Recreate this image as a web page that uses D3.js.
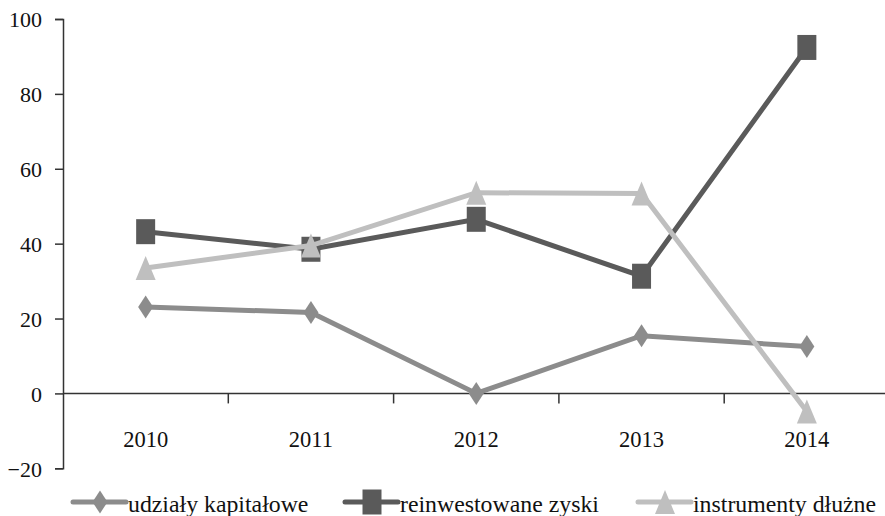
<!DOCTYPE html>
<html>
<head>
<meta charset="utf-8">
<script src="https://cdn.jsdelivr.net/npm/d3@7"></script>
<style>
  html, body { margin: 0; padding: 0; background: #fff; }
  svg { display: block; }
  svg text { font-family: "Liberation Serif", "Times New Roman", Times, serif !important; fill: #111; }
</style>
</head>
<body>
<svg id="chart" width="885" height="516"></svg>
<script>
// Years on the category axis
const years = ["2010", "2011", "2012", "2013", "2014"];
// Series values
const udzialy = [23.1, 21.6, 0.0, 15.4, 12.5];
const reinwestowane = [43.2, 38.5, 46.5, 31.3, 92.4];
const instrumenty = [33.5, 39.5, 53.6, 53.4, -4.8];
// Value axis ticks
const yTicks = [-20, 0, 20, 40, 60, 80, 100];
// Series names
const seriesNames = ["udziały kapitałowe", "reinwestowane zyski", "instrumenty dłużne"];

const series = [
  { name: seriesNames[0], values: udzialy, color: "#8c8c8c", marker: "diamond" },
  { name: seriesNames[1], values: reinwestowane, color: "#5a5a5a", marker: "square" },
  { name: seriesNames[2], values: instrumenty, color: "#bfbfbf", marker: "triangle" }
];

const svg = d3.select("#chart");
const plotLeft = 63, plotRight = 889.5, plotTop = 19, plotBottom = 468.3;
const fontFamily = "'Liberation Serif', 'Times New Roman', Times, serif";

const x = d3.scaleBand().domain(years).range([plotLeft, plotRight]).padding(0);
const y = d3.scaleLinear().domain([-20, 100]).range([plotBottom, plotTop]);
const axisColor = "#333";

// Value axis
const yAxis = svg.append("g")
  .attr("transform", `translate(${plotLeft},0)`)
  .call(d3.axisLeft(y).tickValues(yTicks).tickSize(8).tickPadding(13)
    .tickFormat(d => d < 0 ? "\u2212" + Math.abs(d) : d))
  .attr("font-family", fontFamily);
yAxis.select(".domain").attr("stroke", axisColor).attr("stroke-width", 1.5);
yAxis.selectAll(".tick line").attr("stroke", axisColor).attr("stroke-width", 1.5);
yAxis.selectAll(".tick text").attr("font-size", 22).attr("dy", "0.36em").attr("fill", "#111");

// Category axis along zero
const y0 = y(0);
const xAxisG = svg.append("g").attr("font-family", fontFamily);
xAxisG.append("line")
  .attr("x1", plotLeft).attr("x2", 885)
  .attr("y1", y0).attr("y2", y0)
  .attr("stroke", axisColor).attr("stroke-width", 1.5);
xAxisG.selectAll("line.tick")
  .data(years.slice(1))
  .join("line")
  .attr("class", "tick")
  .attr("x1", d => x(d)).attr("x2", d => x(d))
  .attr("y1", y0).attr("y2", y0 + 10)
  .attr("stroke", axisColor).attr("stroke-width", 1.5);
xAxisG.selectAll("text")
  .data(years)
  .join("text")
  .attr("x", d => x(d) + x.bandwidth() / 2)
  .attr("y", y0 + 54)
  .attr("text-anchor", "middle")
  .attr("font-size", 22.5)
  .text(d => d);

// Marker shapes (half-width/half-height in px)
function markerPath(type) {
  if (type === "diamond") {
    const w = 7.5, h = 11.5;
    return `M0,${-h}L${w},0L0,${h}L${-w},0Z`;
  }
  if (type === "square") {
    const w = 9.5, h = 12.5;
    return `M${-w},${-h}H${w}V${h}H${-w}Z`;
  }
  const w = 10, h = 12;
  return `M0,${-h}L${w},${h}H${-w}Z`;
}

const line = d3.line()
  .x((d, i) => x(years[i]) + x.bandwidth() / 2)
  .y(d => y(d));

series.forEach(s => {
  const g = svg.append("g");
  g.append("path")
    .datum(s.values)
    .attr("d", line)
    .attr("fill", "none")
    .attr("stroke", s.color)
    .attr("stroke-width", 5)
    .attr("stroke-linejoin", "miter");
  g.selectAll("path.marker")
    .data(s.values)
    .join("path")
    .attr("class", "marker")
    .attr("transform", (d, i) => `translate(${x(years[i]) + x.bandwidth() / 2},${y(d)})`)
    .attr("d", markerPath(s.marker))
    .attr("fill", s.color);
});

// Legend
const legendY = 502;
const legendX = [73, 345, 638];
const legend = svg.append("g").attr("font-family", fontFamily);
series.forEach((s, i) => {
  const g = legend.append("g").attr("transform", `translate(${legendX[i]},${legendY})`);
  g.append("line")
    .attr("x1", 0).attr("x2", 53).attr("y1", 0).attr("y2", 0)
    .attr("stroke", s.color).attr("stroke-width", 5).attr("stroke-linecap", "round");
  g.append("path")
    .attr("transform", "translate(27,0)")
    .attr("d", markerPath(s.marker))
    .attr("fill", s.color);
  g.append("text")
    .attr("x", 55).attr("y", 9.5)
    .attr("font-size", 23.8)
    .text(s.name);
});
</script>
</body>
</html>
